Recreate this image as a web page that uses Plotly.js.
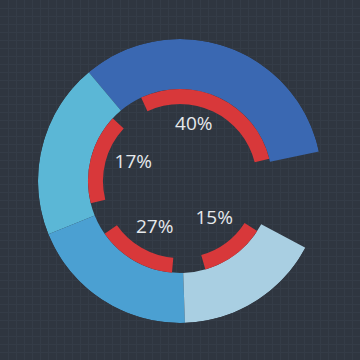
<!DOCTYPE html>
<html><head><meta charset="utf-8">
<script src="https://cdn.plot.ly/plotly-3.0.1.min.js"></script>
<style>html,body{margin:0;padding:0;background:#2f3640;}#c{width:360px;height:360px;}</style>
</head><body><div id="c"></div>
<script>
// Data
var labels = ["40%", "17%", "27%", "15%"];
var outerStart = 12;                       // degrees, counterclockwise from east
var outerSpans = [118, 72, 70, 60];        // degrees per outer segment
var outerColors = ["#3a68b2", "#5bb7d6", "#4ba0d2", "#a9cfe2"];
var innerStarts = [14, 137, 215, 286];     // red arc starts (deg)
var innerSpans = [101, 57, 50, 41];        // red arc spans (deg)
var labelTheta = [76, 159, 242, 312];
var labelR = [57, 50, 54, 51];

var outerTheta = [], acc = outerStart;
outerSpans.forEach(function(s){ outerTheta.push(acc + s/2); acc += s; });
var innerTheta = innerStarts.map(function(s,i){ return s + innerSpans[i]/2; });

var traces = [
  {type:'barpolar', theta: outerTheta, width: outerSpans,
   r: outerSpans.map(function(){return 50;}), base: outerSpans.map(function(){return 92;}),
   marker:{color: outerColors, line:{width:0}}, hoverinfo:'skip', subplot:'polar'},
  {type:'barpolar', theta: innerTheta, width: innerSpans,
   r: innerSpans.map(function(){return 15;}), base: innerSpans.map(function(){return 77;}),
   marker:{color:'#d8383a', line:{width:0}}, hoverinfo:'skip', subplot:'polar'},
  {type:'scatterpolar', mode:'text', theta: labelTheta, r: labelR, text: labels,
   textfont:{family:'Open Sans', size:19, color:'#e6e9ec'}, hoverinfo:'skip', subplot:'polar'},
  {type:'scatter', x:[0,360], y:[0,360], mode:'markers', marker:{opacity:0}, hoverinfo:'skip', xaxis:'x', yaxis:'y'}
];

var layout = {
  width:360, height:360, margin:{l:0,r:0,t:0,b:0},
  paper_bgcolor:'#2f3640', plot_bgcolor:'#2f3640', showlegend:false,
  xaxis:{range:[0,360], dtick:8, showgrid:true, gridcolor:'#343c47', gridwidth:1, zeroline:false, showticklabels:false, fixedrange:true},
  yaxis:{range:[0,360], dtick:8, showgrid:true, gridcolor:'#343c47', gridwidth:1, zeroline:false, showticklabels:false, fixedrange:true},
  polar:{
    domain:{x:[38/360, 322/360], y:[37/360, 321/360]},
    bgcolor:'rgba(0,0,0,0)',
    radialaxis:{range:[0,142], visible:false},
    angularaxis:{visible:false, direction:'counterclockwise', rotation:0},
    bargap:0
  }
};
Plotly.newPlot('c', traces, layout, {displayModeBar:false, staticPlot:true});
</script></body></html>
